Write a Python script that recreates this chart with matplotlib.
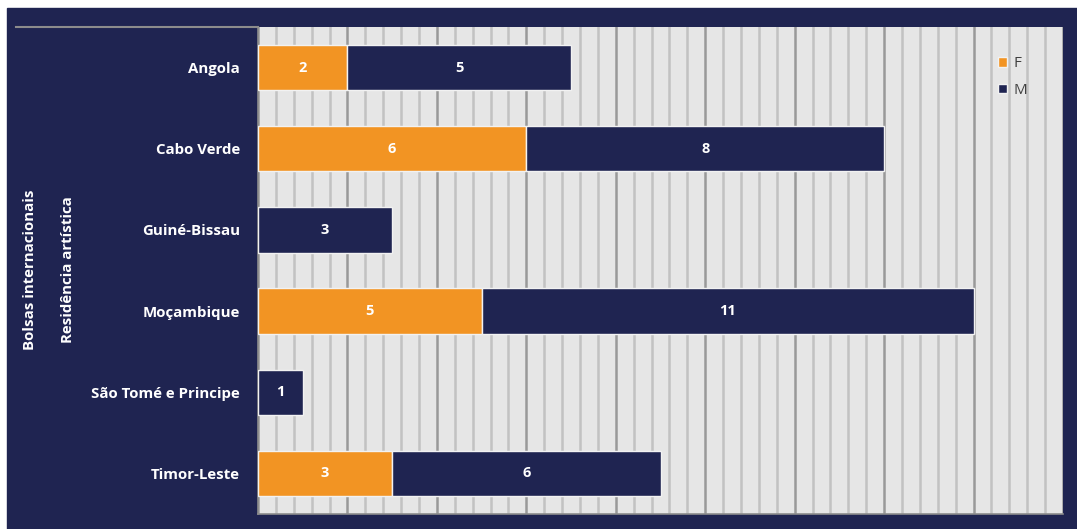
import matplotlib.pyplot as plt
from matplotlib.patches import Rectangle
from matplotlib.lines import Line2D
import numpy as np

# dados
paises = ['Angola', 'Cabo Verde', 'Guiné-Bissau', 'Moçambique', 'São Tomé e Principe', 'Timor-Leste']
feminino = [2, 6, 0, 5, 0, 3]
masculino = [5, 8, 3, 11, 1, 6]
grupo1 = 'Bolsas internacionais'
grupo2 = 'Residência artística'

navy = '#1f2451'
laranja = '#f29423'
plt.rcParams['font.family'] = ['Open Sans', 'DejaVu Sans']

fig = plt.figure(figsize=(10.77, 5.29), dpi=100)
fig.patch.set_facecolor('white')
fig.add_artist(Rectangle((7 / 1077, 0), 1 - 7 / 1077, 1 - 8 / 529,
                         transform=fig.transFigure, color=navy, zorder=-5))

ax = fig.add_axes([258 / 1077, 15 / 529, (1063 - 258) / 1077, (514 - 27) / 529])
ax.set_facecolor('#e6e6e6')

y = np.arange(len(paises))
b1 = ax.barh(y, feminino, height=0.56, color=laranja, edgecolor='#f2f2f2', linewidth=1, label='F', zorder=3)
b2 = ax.barh(y, masculino, left=feminino, height=0.56, color=navy, edgecolor='#f2f2f2', linewidth=1, label='M', zorder=3)

for i in range(len(paises)):
    if feminino[i] > 0:
        ax.text(feminino[i] / 2, y[i], str(feminino[i]), ha='center', va='center',
                color='white', fontsize=10.5, fontweight='bold', zorder=4)
    ax.text(feminino[i] + masculino[i] / 2, y[i], str(masculino[i]), ha='center', va='center',
            color='white', fontsize=10.5, fontweight='bold', zorder=4)

ax.set_xlim(0, 18)
ax.set_ylim(len(paises) - 0.5, -0.5)
ax.set_xticks(np.arange(0, 18.1, 2))
ax.set_xticks(np.arange(0, 18.1, 0.4), minor=True)
ax.grid(axis='x', which='minor', color='#c2c2c2', linewidth=1.8, zorder=1)
ax.grid(axis='x', which='major', color='#999999', linewidth=1.8, zorder=2)
ax.set_axisbelow(True)
ax.tick_params(axis='x', which='both', length=0, labelbottom=False)
ax.set_yticks(y)
ax.set_yticklabels(paises, color='white', fontsize=10.8, fontweight='bold')
ax.tick_params(axis='y', length=0, pad=13)
for s in ['top', 'right']:
    ax.spines[s].set_visible(False)
for s in ['left', 'bottom']:
    ax.spines[s].set_color('#8c8c8c')
    ax.spines[s].set_linewidth(1.2)

fig.add_artist(Line2D([16 / 1077, 258 / 1077], [1 - 27 / 529, 1 - 27 / 529],
                      transform=fig.transFigure, color='#8c8c8c', linewidth=1.5))
fig.text(30 / 1077, 1 - 270 / 529, grupo1, rotation=90, ha='center', va='center',
         color='white', fontsize=10.8, fontweight='bold')
fig.text(68 / 1077, 1 - 270 / 529, grupo2, rotation=90, ha='center', va='center',
         color='white', fontsize=10.8, fontweight='bold')

leg = ax.legend(loc='upper left', bbox_to_anchor=(0.9025, 0.968), frameon=False,
                handlelength=0.6, handleheight=0.6, handletextpad=0.4, labelspacing=0.75,
                fontsize=11)
for t in leg.get_texts():
    t.set_color('#404040')

fig.savefig('out.png', dpi=100)
